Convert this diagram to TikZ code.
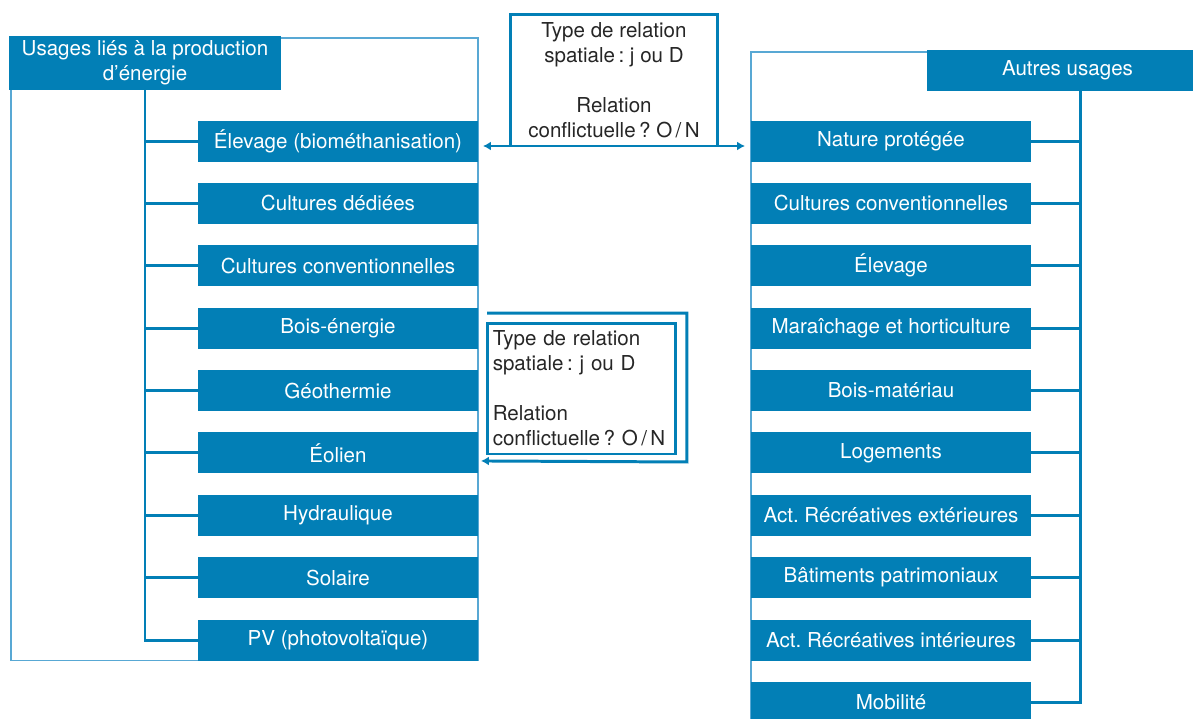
\documentclass[tikz,border=0pt]{standalone}
\usepackage{fontspec}
\setmainfont{TeX Gyre Heros}
\frenchspacing
\usetikzlibrary{arrows.meta, positioning, calc, backgrounds}
\definecolor{usageblue}{RGB}{2,127,182}
\definecolor{framebl}{RGB}{88,168,212}

\begin{document}
\begin{tikzpicture}[
    x=0.02cm, y=-0.02cm,
    node distance=0.428cm,
    usage/.style={rectangle, fill=usageblue, text=white, minimum width=5.6cm, minimum height=0.82cm, inner sep=0pt, outer sep=0pt, align=center},
    relbox/.style={draw=usageblue, line width=1.7pt, rectangle, inner sep=0pt, outer sep=0pt, text=black!85},
    frame/.style={draw=framebl, line width=0.9pt},
    spine/.style={draw=usageblue, line width=1.7pt},
    link/.style={draw=usageblue, line width=1.7pt},
    >={Latex[length=1.6mm, width=1.8mm]},
    font=\fontsize{11.7}{14.2}\selectfont,
]
    \useasboundingbox (0,0) rectangle (1193,718);

    % energy uses
    \node[usage, minimum width=5.44cm, minimum height=1.08cm] (ltitle) at (145,63) {Usages liés à la production\\d’énergie};
    \node[usage]              (l1) at (338,141) {Élevage (biométhanisation)};
    \node[usage, below=of l1] (l2) {Cultures dédiées};
    \node[usage, below=of l2] (l3) {Cultures conventionnelles};
    \node[usage, below=of l3] (l4) {Bois-énergie};
    \node[usage, below=of l4] (l5) {Géothermie};
    \node[usage, below=of l5] (l6) {Éolien};
    \node[usage, below=of l6] (l7) {Hydraulique};
    \node[usage, below=of l7] (l8) {Solaire};
    \node[usage, below=of l8] (l9) {PV (photovoltaïque)};

    % other uses
    \node[usage, minimum width=5.62cm] (rtitle) at (1067.5,70.5) {Autres usages};
    \coordinate (rspine) at (1080,91);
    \node[usage]              (r1)  at (891,141) {Nature protégée};
    \node[usage, below=of r1] (r2)  {Cultures conventionnelles};
    \node[usage, below=of r2] (r3)  {Élevage};
    \node[usage, below=of r3] (r4)  {Maraîchage et horticulture};
    \node[usage, below=of r4] (r5)  {Bois-matériau};
    \node[usage, below=of r5] (r6)  {Logements};
    \node[usage, below=of r6] (r7)  {Act. Récréatives extérieures};
    \node[usage, below=of r7] (r8)  {Bâtiments patrimoniaux};
    \node[usage, below=of r8] (r9)  {Act. Récréatives intérieures};
    \node[usage, below=of r9] (r10) {Mobilité};

    \begin{scope}[on background layer]
        \draw[frame] (11,38) rectangle (l9.south east);
        \draw[frame] (927,52) -| (r10.south west);
    \end{scope}

    % trees
    \draw[spine] (ltitle.south) |- (l9.west);
    \foreach \i in {1,...,8} \draw[spine] (ltitle.south |- l\i.west) -- (l\i.west);
    \draw[spine] (rspine) |- (r10.east);
    \foreach \i in {1,...,9} \draw[spine] (rspine |- r\i.east) -- (r\i.east);

    % relations
    \node[relbox, minimum width=4.16cm, minimum height=2.64cm, align=center] (rel1) at (614,80)
        {Type de relation\\spatiale\,: j ou D\\[14.2pt]Relation\\conflictuelle\,? O\,/\,N};
    \draw[link, <->] ($(l1.east |- rel1.south)+(5,0)$) -- ($(r1.west |- rel1.south)+(-6,0)$);

    \node[relbox, minimum width=3.78cm, minimum height=2.62cm, text width=3.55cm, align=left] (rel2) at (581.5,388.5)
        {Type de relation\\spatiale\,: j ou D\\[14.2pt]Relation\\conflictuelle\,? O\,/\,N};
    \draw[link, ->] ($(rel2.north west)+(0,-10)$) -| ($(rel2.south east)+(11,8)$) -- ($(l6.east)+(3,8)$);
\end{tikzpicture}
\end{document}
